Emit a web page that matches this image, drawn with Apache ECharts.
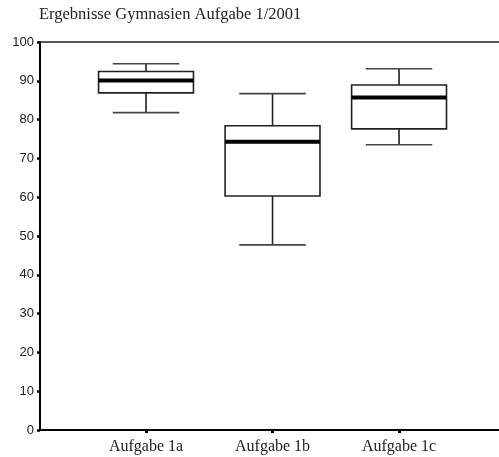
<!DOCTYPE html>
<html>
<head>
<meta charset="utf-8">
<script src="https://cdn.jsdelivr.net/npm/echarts@6/dist/echarts.min.js"></script>
<style>
  * { margin: 0; padding: 0; }
  #chart-container { width: 499px; height: 457px; background: #fff; }
</style>
</head>
<body>
<div id="chart-container"></div>
<script>
  var categories = ['Aufgabe 1a', 'Aufgabe 1b', 'Aufgabe 1c']
  var lowerWhisker = [81.8, 47.7, 73.5]
  var q1 = [86.9, 60.3, 77.6]
  var median = [90.1, 74.3, 85.7]
  var q3 = [92.4, 78.4, 88.9]
  var upperWhisker = [94.4, 86.7, 93.1]
  var yTicks = [0, 10, 20, 30, 40, 50, 60, 70, 80, 90, 100]

  var boxData = categories.map(function (c, i) {
    return [i + 1, lowerWhisker[i], q1[i], median[i], q3[i], upperWhisker[i]]
  })

  var chartDom = document.getElementById('chart-container')
  var myChart = echarts.init(chartDom, null, { renderer: 'canvas' })

  function renderBox(params, api) {
    var x = api.value(0)
    var lo = api.coord([x, api.value(1)])
    var b1 = api.coord([x, api.value(2)])
    var md = api.coord([x, api.value(3)])
    var b3 = api.coord([x, api.value(4)])
    var hi = api.coord([x, api.value(5)])
    var boxW = api.size([0.75, 0])[0]
    var capW = api.size([0.526, 0])[0]
    var cx = lo[0]
    var lineStyle = { stroke: '#222', lineWidth: 1.6 }
    return {
      type: 'group',
      children: [
        { type: 'line', shape: { x1: cx, y1: hi[1], x2: cx, y2: b3[1] }, style: lineStyle },
        { type: 'line', shape: { x1: cx, y1: b1[1], x2: cx, y2: lo[1] }, style: lineStyle },
        { type: 'line', shape: { x1: cx - capW / 2, y1: hi[1], x2: cx + capW / 2, y2: hi[1] }, style: { stroke: '#444', lineWidth: 1.6 } },
        { type: 'line', shape: { x1: cx - capW / 2, y1: lo[1], x2: cx + capW / 2, y2: lo[1] }, style: { stroke: '#444', lineWidth: 1.6 } },
        { type: 'rect', shape: { x: cx - boxW / 2, y: b3[1], width: boxW, height: b1[1] - b3[1] }, style: { fill: '#fff', stroke: '#222', lineWidth: 1.6 } },
        { type: 'line', shape: { x1: cx - boxW / 2, y1: md[1], x2: cx + boxW / 2, y2: md[1] }, style: { stroke: '#000', lineWidth: 4 } }
      ]
    }
  }

  var option = {
    backgroundColor: '#fff',
    animation: false,
    title: {
      text: 'Ergebnisse Gymnasien Aufgabe 1/2001',
      left: 39,
      top: 6,
      padding: 0,
      textStyle: { fontFamily: 'Liberation Serif', fontSize: 16.5, fontWeight: 'normal', color: '#222' }
    },
    grid: { left: 40, right: 0, top: 42, bottom: 27, containLabel: false, outerBoundsMode: 'none' },
    xAxis: [
      {
        type: 'value',
        min: 0.162,
        max: 3.79,
        splitLine: { show: false },
        axisLine: { show: true, onZero: false, lineStyle: { color: '#000', width: 2 } },
        axisTick: { show: true, customValues: [1, 2, 3], length: 3, lineStyle: { color: '#000', width: 3 } },
        axisLabel: {
          customValues: [1, 2, 3],
          margin: 9,
          fontFamily: 'Liberation Serif',
          fontSize: 16,
          color: '#222',
          formatter: function (v) { return categories[Math.round(v) - 1] || '' }
        }
      },
      {
        type: 'value',
        position: 'top',
        min: 0.162,
        max: 3.79,
        splitLine: { show: false },
        axisLine: { show: true, onZero: false, lineStyle: { color: '#222', width: 1.6 } },
        axisTick: { show: false },
        axisLabel: { show: false }
      }
    ],
    yAxis: {
      type: 'value',
      min: yTicks[0],
      max: yTicks[yTicks.length - 1],
      interval: 10,
      splitLine: { show: false },
      axisLine: { show: true, lineStyle: { color: '#000', width: 2 } },
      axisTick: { show: true, length: 3, lineStyle: { color: '#000', width: 2.5 } },
      axisLabel: { margin: 6, fontFamily: 'Liberation Sans', fontSize: 13, color: '#222' }
    },
    series: [
      {
        type: 'custom',
        renderItem: renderBox,
        encode: { x: 0, y: [1, 2, 3, 4, 5] },
        data: boxData
      }
    ]
  }
  myChart.setOption(option)
</script>
</body>
</html>
